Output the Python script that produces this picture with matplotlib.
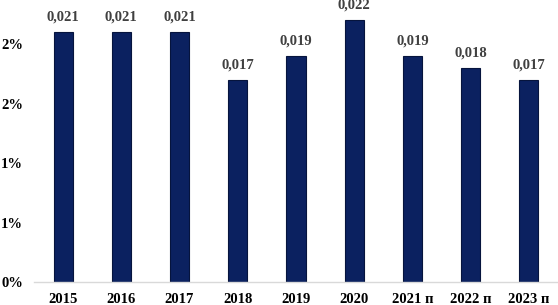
import matplotlib.pyplot as plt
from matplotlib.ticker import FuncFormatter

years = ["2015", "2016", "2017", "2018", "2019", "2020", "2021 п", "2022 п", "2023 п"]
values = [0.021, 0.021, 0.021, 0.017, 0.019, 0.022, 0.019, 0.018, 0.017]
yticks = [0, 0.005, 0.01, 0.015, 0.02]

plt.rcParams['font.family'] = ['Liberation Serif', 'DejaVu Serif']
plt.rcParams['font.weight'] = 'bold'

fig = plt.figure(figsize=(5.58, 3.05), dpi=100)
ax = fig.add_axes([34 / 558, 23 / 305, 524 / 558, 282 / 305])

x = range(len(years))
ax.bar(x, values, width=0.33, color="#0b2160", edgecolor="#06143d", linewidth=0.8)

for xi, v in zip(x, values):
    ax.annotate("{:.3f}".format(v).replace(".", ","), (xi, v),
                xytext=(0, 6), textcoords="offset points",
                ha="center", va="bottom", fontsize=10.5,
                fontweight="bold", color="#404040")

ax.set_xlim(-0.5, len(years) - 0.5)
ax.set_ylim(0, 0.0237)
ax.set_xticks(list(x))
ax.set_xticklabels(years, fontsize=10.5, fontweight="bold")
ax.set_yticks(yticks)
# Excel-style rounding: 0.5% -> 1%, 1.5% -> 2%
ax.yaxis.set_major_formatter(FuncFormatter(lambda v, p: "{}%".format(int(v * 100 + 0.5))))
for lab in ax.get_yticklabels():
    lab.set_fontweight("bold")
    lab.set_fontsize(10.5)

ax.tick_params(axis="both", length=0)
ax.tick_params(axis="x", pad=8)
ax.tick_params(axis="y", pad=8)
for s in ["top", "right", "left"]:
    ax.spines[s].set_visible(False)
ax.spines["bottom"].set_color("#d9d9d9")
ax.spines["bottom"].set_linewidth(1)

fig.savefig("out.png", dpi=100)
